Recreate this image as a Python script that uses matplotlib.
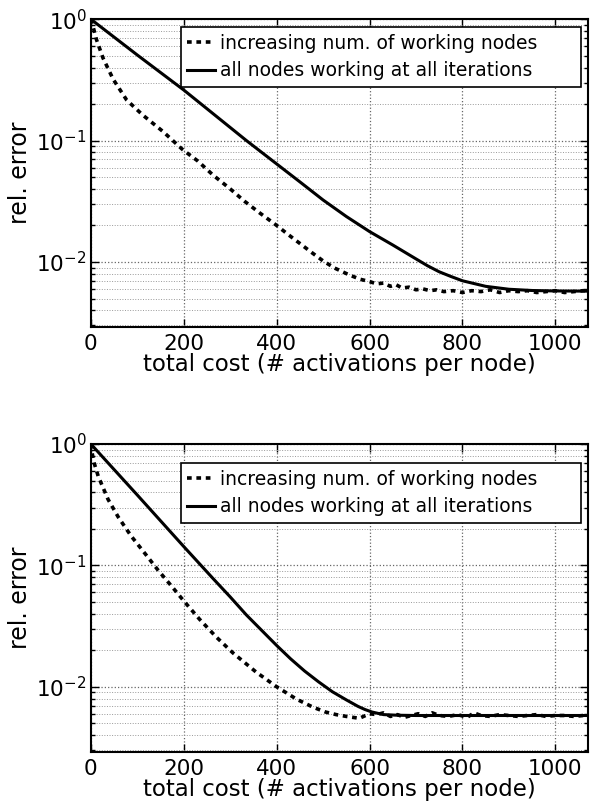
import numpy as np
import matplotlib
matplotlib.use("Agg")
import matplotlib.pyplot as plt

plt.rcParams['font.family'] = ['DejaVu Sans']
plt.rcParams['mathtext.default'] = 'regular'

# datos
lbl_inc = "increasing num. of working nodes"
lbl_all = "all nodes working at all iterations"

# grafica superior
cost_inc1 = [0, 5, 12, 26, 48, 77, 112, 155, 198, 230, 263, 300, 331, 365, 400, 425,
             449, 475, 500, 525, 557, 580, 600, 615, 630, 645, 657, 670, 685, 700, 715,
             730, 745, 760, 780, 800, 820, 840, 860, 880, 900, 920, 940, 960, 980,
             1000, 1020, 1040, 1060, 1070]
err_inc1 = [1.0, 0.86, 0.68, 0.48, 0.32, 0.216, 0.162, 0.119, 0.084, 0.068, 0.052, 0.040,
            0.0316, 0.0251, 0.0200, 0.0168, 0.0143, 0.0120, 0.0102, 0.0089, 0.0078, 0.0072,
            0.0069, 0.0066, 0.0067, 0.0063, 0.0065, 0.0061, 0.0062, 0.0059, 0.0060,
            0.0058, 0.0059, 0.0057, 0.0058, 0.0056, 0.0058, 0.0057, 0.0059, 0.0056,
            0.0058, 0.0057, 0.0058, 0.0056, 0.0057, 0.0058, 0.0056, 0.0057, 0.0058, 0.0058]
cost_all1 = [0, 100, 200, 335, 450, 500, 550, 600, 650, 700, 725, 750, 775, 800, 850,
             900, 950, 1000, 1070]
err_all1 = [1.0, 0.507, 0.261, 0.100, 0.0457, 0.0324, 0.0237, 0.0178, 0.0138, 0.0106,
            0.0093, 0.0083, 0.0076, 0.0070, 0.0063, 0.00596, 0.00582, 0.00577, 0.00575]

# grafica inferior
cost_inc2 = [0, 5, 16, 37, 59, 87, 116, 145, 173, 200, 234, 270, 306, 356, 400, 443, 478,
             505, 528, 550, 578, 600, 615, 630, 645, 660, 675, 690, 705, 720, 735, 750,
             770, 790, 810, 825, 840, 860, 880, 900, 920, 940, 960, 980, 1000, 1020,
             1040, 1060, 1070]
err_inc2 = [1.0, 0.74, 0.54, 0.35, 0.25, 0.174, 0.126, 0.091, 0.068, 0.051, 0.036, 0.0257,
            0.019, 0.0132, 0.0100, 0.0079, 0.0068, 0.0062, 0.0059, 0.0057, 0.0055, 0.0060,
            0.0059, 0.0061, 0.0057, 0.0059, 0.0056, 0.0058, 0.0060, 0.0057, 0.0061,
            0.0058, 0.0057, 0.0059, 0.0056, 0.0061, 0.0058, 0.0057, 0.0059, 0.0058,
            0.0057, 0.0058, 0.0059, 0.0057, 0.0058, 0.0058, 0.0057, 0.0058, 0.0058]
cost_all2 = [0, 100, 200, 263, 300, 335, 400, 430, 460, 490, 520, 550, 575, 590, 605,
             630, 660, 700, 800, 1070]
err_all2 = [1.0, 0.38, 0.143, 0.078, 0.055, 0.039, 0.0219, 0.0170, 0.0135, 0.0110,
            0.0091, 0.0078, 0.0069, 0.0065, 0.0062, 0.0059, 0.00583, 0.0058, 0.0058, 0.0058]

xticks = [0, 200, 400, 600, 800, 1000]

fig = plt.figure(figsize=(5.98, 8.02), dpi=100)
ax1 = fig.add_axes([0.152, 0.592, 0.831, 0.384])
ax2 = fig.add_axes([0.152, 0.0623, 0.831, 0.384])

datos = [(ax1, cost_inc1, err_inc1, cost_all1, err_all1, (0.181, 0.769, 0.805, 0.205)),
         (ax2, cost_inc2, err_inc2, cost_all2, err_all2, (0.181, 0.731, 0.805, 0.207))]

for ax, ci, ei, ca, ea, bb in datos:
    ax.set_yscale('log')
    ax.plot(ci, ei, color='k', lw=2.6, linestyle=(0, (1.3, 1.3)), label=lbl_inc)
    ax.plot(ca, ea, color='k', lw=2.2, label=lbl_all)
    ax.set_xlim(0, 1070)
    ax.set_ylim(0.0029, 1.0)
    ax.set_xticks(xticks)
    ax.grid(True, which='major', color='0.4', linestyle=':', lw=0.9)
    ax.grid(True, which='minor', axis='y', color='0.6', linestyle=':', lw=0.7)
    ax.tick_params(which='both', direction='in', top=True, right=True, labelsize=15.5,
                   width=1.0)
    ax.tick_params(which='major', length=6, pad=5)
    ax.tick_params(which='minor', length=3)
    ax.tick_params(axis='y', which='major', pad=3)
    for s in ax.spines.values():
        s.set_linewidth(1.5)
    ax.set_xlabel("total cost (# activations per node)", fontsize=16.5, labelpad=-1)
    ax.set_ylabel("rel. error", fontsize=17, labelpad=3)
    leg = ax.legend(loc='upper left', bbox_to_anchor=bb, mode='expand', fontsize=13.5,
                    fancybox=False, framealpha=1, edgecolor='k', handlelength=1.45,
                    handletextpad=0.3, borderpad=0.35, labelspacing=0.45,
                    borderaxespad=0)
    leg.get_frame().set_linewidth(1.2)

plt.savefig("out.png", dpi=100)
plt.close()
